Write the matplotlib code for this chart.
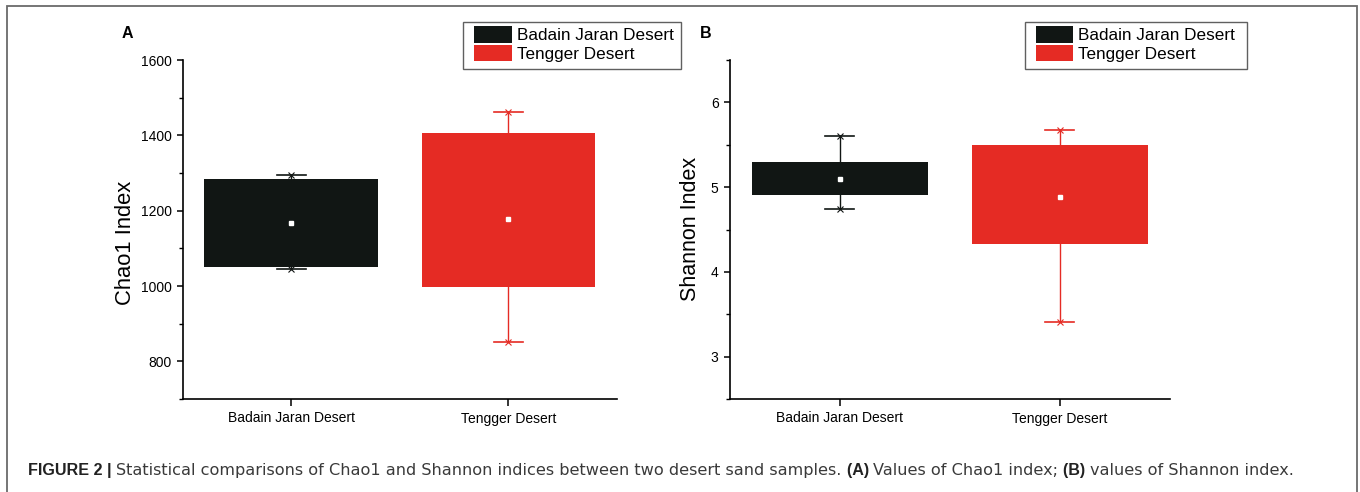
import numpy as np
import matplotlib
matplotlib.use('Agg')
from matplotlib import pyplot as plt
from matplotlib.patches import Patch, Rectangle
from matplotlib.ticker import MultipleLocator

plt.rcParams['font.family'] = ['Liberation Sans', 'DejaVu Sans']

# data
groups = ['Badain Jaran Desert', 'Tengger Desert']
colors = ['#111614', '#e52b24']

chao_box_low = [1050, 997]
chao_box_high = [1283, 1405]
chao_whisk_low = [1046, 852]
chao_whisk_high = [1294, 1463]
chao_mean = [1168, 1178]

shan_box_low = [4.91, 4.33]
shan_box_high = [5.30, 5.50]
shan_whisk_low = [4.74, 3.41]
shan_whisk_high = [5.60, 5.67]
shan_mean = [5.10, 4.88]

W, H = 1360, 492
fig = plt.figure(figsize=(W / 100, H / 100), dpi=100)


def draw_panel(ax, lo, hi, wlo, whi, mean):
    x = np.arange(len(groups))
    for i in range(len(groups)):
        c = colors[i]
        ax.plot([x[i], x[i]], [wlo[i], whi[i]], color=c, lw=1.0, zorder=1)
        ax.plot([x[i] - 0.066, x[i] + 0.066], [whi[i], whi[i]], color=c, lw=1.2, zorder=1)
        ax.plot([x[i] - 0.066, x[i] + 0.066], [wlo[i], wlo[i]], color=c, lw=1.2, zorder=1)
        ax.plot([x[i], x[i]], [wlo[i], whi[i]], ls='none', marker='x', ms=4, mew=0.8, color=c, zorder=1)
    ax.bar(x, np.array(hi) - np.array(lo), bottom=lo, width=0.8, color=colors, zorder=2)
    ax.plot(x, mean, ls='none', marker='s', ms=2.5, color='white', mec='white', zorder=3)
    ax.set_xlim(-0.5, 1.5)
    ax.set_xticks(x)
    ax.set_xticklabels(groups, fontsize=10)
    ax.spines['top'].set_visible(False)
    ax.spines['right'].set_visible(False)
    for s in ['left', 'bottom']:
        ax.spines[s].set_linewidth(1.2)
    ax.tick_params(axis='both', direction='out', length=4.5, width=1.1, labelsize=10, pad=3.4)
    ax.tick_params(axis='x', length=5, pad=4)
    ax.tick_params(which='minor', direction='out', length=2.7, width=1.0)
    ax.tick_params(axis='x', which='minor', bottom=False)
    ax.set_facecolor('none')


axA = fig.add_axes([182.7 / W, 1 - 399 / H, (617 - 182.7) / W, (399 - 60) / H])
draw_panel(axA, chao_box_low, chao_box_high, chao_whisk_low, chao_whisk_high, chao_mean)
axA.set_ylim(700, 1600)
axA.set_yticks([800, 1000, 1200, 1400, 1600])
axA.yaxis.set_minor_locator(MultipleLocator(100))

axB = fig.add_axes([729.6 / W, 1 - 399 / H, (1169.7 - 729.6) / W, (399 - 60) / H])
draw_panel(axB, shan_box_low, shan_box_high, shan_whisk_low, shan_whisk_high, shan_mean)
axB.set_ylim(2.5, 6.5)
axB.set_yticks([3, 4, 5, 6])
axB.yaxis.set_minor_locator(MultipleLocator(0.5))

fig.text(125.6 / W, 1 - 243 / H, 'Chao1 Index', rotation=90, ha='center', va='center', fontsize=15.8)
fig.text(691 / W, 1 - 229 / H, 'Shannon Index', rotation=90, ha='center', va='center', fontsize=15.5)
fig.text(127 / W, 1 - 33 / H, 'A', ha='center', va='center', fontsize=11.5, fontweight='bold')
fig.text(706 / W, 1 - 33 / H, 'B', ha='center', va='center', fontsize=11.5, fontweight='bold')

# legends: frame drawn separately so the padding matches
handles = [Patch(facecolor=c, edgecolor='none') for c in colors]
for fx0, fx1, hx in [(463, 681, 474), (1024.7, 1246.8, 1035.7)]:
    fig.legend(handles, groups, loc='upper left', bbox_to_anchor=(hx / W, 1 - 25.7 / H),
               bbox_transform=fig.transFigure, borderaxespad=0, borderpad=0, fontsize=12.3,
               handlelength=2.2, handleheight=1.15, handletextpad=0.3,
               labelspacing=0.09, frameon=False)
    fig.add_artist(Rectangle((fx0 / W, 1 - 69 / H), (fx1 - fx0) / W, 47 / H,
                             transform=fig.transFigure, fill=False, edgecolor='#606060', lw=1.0))

# outer frame, open at the bottom
fig.add_artist(Rectangle((7 / W, -0.05), (1356.7 - 7) / W, 1.05 - 6 / H, transform=fig.transFigure,
                         fill=False, edgecolor='#6a6a6a', lw=1.3))

# caption, mixed bold and regular runs
renderer = fig.canvas.get_renderer()
cap_y = 1 - 475 / H
runs = [('FIGURE 2 | ', True), ('Statistical comparisons of Chao1 and Shannon indices between two desert sand samples. ', False),
        ('(A) ', True), ('Values of Chao1 index; ', False), ('(B) ', True), ('values of Shannon index.', False)]
xpos = 28 / W
for txt, bold in runs:
    if bold:
        t = fig.text(xpos, cap_y, txt, fontsize=11.6, fontweight='bold', family=['Liberation Sans'],
                     color='#222222', va='baseline')
    else:
        t = fig.text(xpos, cap_y, txt, fontsize=11.6, family=['DejaVu Sans'],
                     color='#3a3a3a', va='baseline')
    bb = t.get_window_extent(renderer)
    xpos = bb.x1 / W

fig.savefig('out.png', dpi=100)
